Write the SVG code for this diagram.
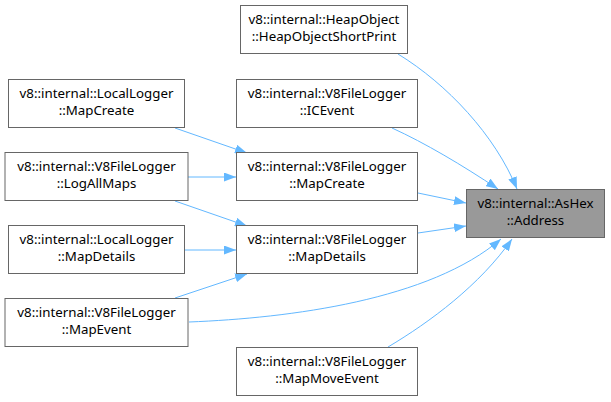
<svg xmlns="http://www.w3.org/2000/svg" width="611" height="402" viewBox="0 0 611 402">
<style>
.n rect{fill:#fff;stroke:#666;stroke-width:1}
.n.hl rect{fill:#999}
.n text{font-family:"Noto Sans","DejaVu Sans",sans-serif;font-size:13.3px;fill:#000;text-anchor:middle}
.e path{fill:none;stroke:#63b8ff;stroke-width:1;marker-end:url(#ah)}
</style>
<defs>
<marker id="ah" markerUnits="userSpaceOnUse" markerWidth="12" markerHeight="9" viewBox="0 0 12 9" refX="12" refY="4.5" orient="auto">
<path d="M0,0 L12,4.5 L0,9 z" fill="#63b8ff"/>
</marker>
</defs>
<g id="connectors" class="e">
<path d="M175,128 L247,153"/>
<path d="M188,177 L236,177"/>
<path d="M175,201 L247,226"/>
<path d="M185,250 L236,250"/>
<path d="M175,298 L247,274"/>
<path d="M398,54 C447,84 495,135 517,189"/>
<path d="M392,128 C425,143 462,165 498,189"/>
<path d="M418,193 L466,203"/>
<path d="M418,233 L466,226"/>
<path d="M189,322 C290,318 430,300 501,239"/>
<path d="M388,347 C430,322 480,285 512,239"/>
</g>
<g id="heapobject" class="n"><rect x="240.5" y="5.5" width="167" height="48"/><text x="324" y="23.5">v8::internal::HeapObject</text><text x="324" y="41">::HeapObjectShortPrint</text></g>
<g id="locallogger_mapcreate" class="n"><rect x="8.5" y="79.5" width="176" height="48"/><text x="96.5" y="97.5">v8::internal::LocalLogger</text><text x="96.5" y="115">::MapCreate</text></g>
<g id="icevent" class="n"><rect x="236.5" y="79.5" width="181" height="48"/><text x="327" y="97.5">v8::internal::V8FileLogger</text><text x="327" y="115">::ICEvent</text></g>
<g id="logallmaps" class="n"><rect x="5" y="152.5" width="183" height="48"/><text x="96.5" y="170.5">v8::internal::V8FileLogger</text><text x="96.5" y="188">::LogAllMaps</text></g>
<g id="v8_mapcreate" class="n"><rect x="236.5" y="152.5" width="181" height="48"/><text x="327" y="170.5">v8::internal::V8FileLogger</text><text x="327" y="188">::MapCreate</text></g>
<g id="ashex_address" class="n hl"><rect x="466.5" y="189.5" width="138" height="48"/><text x="535.5" y="207.5">v8::internal::AsHex</text><text x="535.5" y="225">::Address</text></g>
<g id="locallogger_mapdetails" class="n"><rect x="8.5" y="225.5" width="176" height="48"/><text x="96.5" y="243.5">v8::internal::LocalLogger</text><text x="96.5" y="261">::MapDetails</text></g>
<g id="v8_mapdetails" class="n"><rect x="236.5" y="225.5" width="181" height="48"/><text x="327" y="243.5">v8::internal::V8FileLogger</text><text x="327" y="261">::MapDetails</text></g>
<g id="mapevent" class="n"><rect x="5" y="298.5" width="183" height="48"/><text x="96.5" y="316.5">v8::internal::V8FileLogger</text><text x="96.5" y="334">::MapEvent</text></g>
<g id="mapmoveevent" class="n"><rect x="236.5" y="347.5" width="181" height="48"/><text x="327" y="365.5">v8::internal::V8FileLogger</text><text x="327" y="383">::MapMoveEvent</text></g>
</svg>
